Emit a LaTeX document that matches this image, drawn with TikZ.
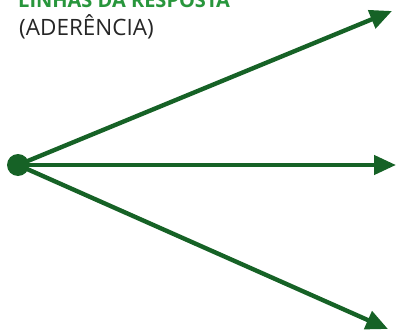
\documentclass[tikz,border=0pt]{standalone}
\usepackage{fontspec}
\setmainfont{Open Sans}
\usetikzlibrary{arrows.meta}
\definecolor{dgreen}{RGB}{22,98,38}
\definecolor{tgreen}{RGB}{40,150,60}
\tikzset{
  ray/.style={draw=dgreen, line width=4.4pt, -{Triangle[length=22pt,width=19pt]}},
  lbl/.style={anchor=base west, inner sep=0pt, font=\fontsize{22.5}{25}\selectfont}
}
\begin{document}
\begin{tikzpicture}[x=1pt,y=-1pt]
\useasboundingbox (0,0) rectangle (403,331);
\node[lbl, text=tgreen, font=\fontsize{20}{22}\selectfont\bfseries] (title) at (18,8) {LINHAS DA RESPOSTA};
\node[lbl, text=black!85] (sub) at (19,36) {(ADERÊNCIA)};
\node[circle, fill=dgreen, minimum size=22pt, inner sep=0pt] (o) at (18,165) {};
\coordinate (t1) at (392,11);
\coordinate (t2) at (396,165);
\coordinate (t3) at (388,329);
\draw[ray] (o.center) -- (t1);
\draw[ray] (o.center) -- (t2);
\draw[ray] (o.center) -- (t3);
\end{tikzpicture}
\end{document}
